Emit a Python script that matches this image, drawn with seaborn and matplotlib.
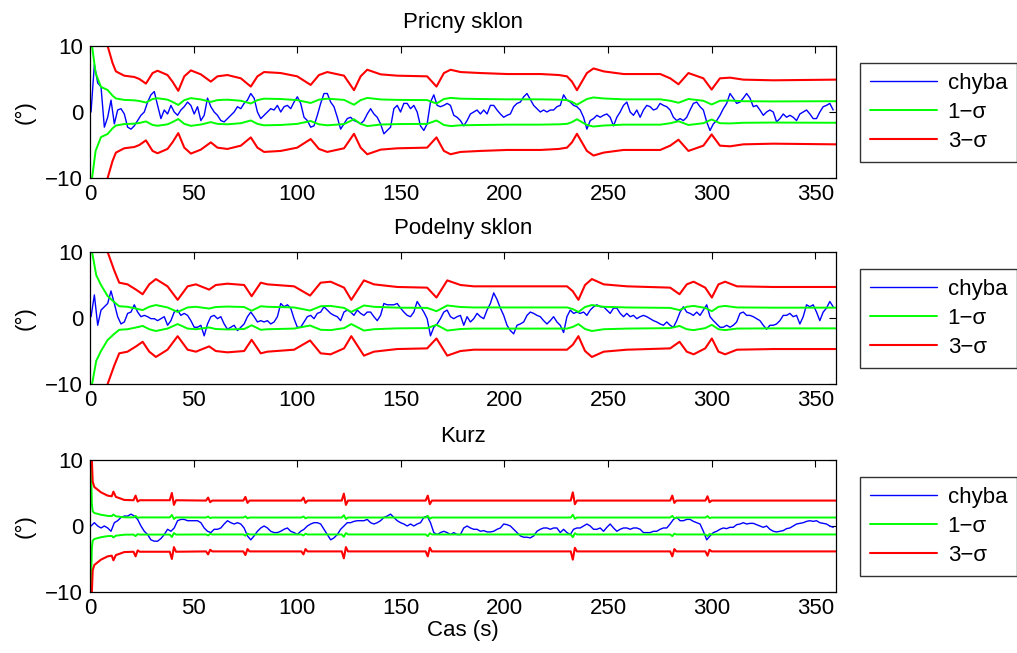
import numpy as np
import matplotlib
matplotlib.use("Agg")
import matplotlib.pyplot as plt
import seaborn as sns

# error samples, uniform time grid starting at T0 with step T_STEP (s)
T0 = 0.5
T_STEP = 1.606

roll_err = [
    0.0, 7.2, 4.4, 3.8, -2.3, -0.8, 1.8, -1.8, 0.3, 0.5,
    -0.3, -2.3, -2.6, -2.1, -1.3, -0.5, 0.0, 1.5, 2.6, 3.1,
    1.0, -1.0, 0.3, -0.3, 1.0, 0.0, -0.5, 0.3, 0.8, 1.5,
    1.0, -0.3, 0.8, -1.3, -0.5, 2.1, 0.8, 0.0, -0.5, -1.3,
    -1.5, -1.0, -0.5, 0.0, 0.8, 0.5, 1.3, 1.8, 2.8, 2.1,
    0.0, -1.0, -0.5, 0.0, 0.5, 0.3, 1.0, 0.0, 0.8, 1.0,
    0.5, 1.5, 2.3, 1.3, -0.8, -1.3, -2.3, -2.1, -0.5, 1.3,
    2.8, 2.8, 1.5, 0.8, -0.8, -2.6, -1.8, -1.0, -0.8, -1.3,
    -1.5, -1.8, -1.3, -0.3, 0.5, -0.3, -0.8, -1.8, -3.3, -2.8,
    -2.3, 0.5, 1.0, 0.0, 1.3, 1.3, 0.5, 1.0, 0.0, -2.1,
    -2.8, -1.8, 1.5, 2.6, 1.0, 0.8, 1.0, 1.3, 1.0, -0.5,
    -0.8, -1.3,
    -2.1, -1.3, -0.3, 0.0, 0.3, -0.3, 0.3, -0.3, 1.0, 1.0,
    0.3, -0.3, -0.8, -0.5, -0.3, 0.8, 1.3, 1.5, 2.3, 2.8,
    1.9, 1.0, 0.5, 0.0, 0.3, 0.0, 0.3, 0.3, 0.8, 1.0,
    2.6, 1.8, 1.5, 1.0, 0.8, 0.3, -0.8, -2.6, -1.3, -1.0,
    -0.5, -0.8, -0.5, -0.3, -0.8, -2.1, -0.8, 0.0, 1.0, 1.5,
    0.0, -0.5, 0.3, -0.8, 0.3, 1.0, 0.8, 0.3, 0.5, 1.3,
    1.0, 0.8, 0.3, -0.8, -1.3, -1.0, -1.3, -0.8, 0.3, 1.3,
    1.5, 0.8, 0.3, -1.5, -2.8, -1.8, -1.3, -0.5, 0.5, 1.3,
    2.8, 2.1, 1.3, 1.5, 2.1, 2.8, 2.1, 0.8, 1.0, 0.3,
    -0.5, 0.0, 0.3, 0.0, -1.5, -1.0, -0.3, -0.8, -0.5, -0.8,
    -1.3, -0.3, 0.0, 0.3, -0.3, -1.0, -1.0, 0.0, 0.8, 1.0,
    1.3, 0.3,
]

pitch_err = [
    0.2, 3.5, -1.1, 1.2, 1.7, 2.2, 4.1, 2.2, 0.2, -0.9,
    -0.6, 0.7, 0.9, 2.0, 0.9, 0.2, 0.4, 0.2, -0.1, -0.1,
    -0.4, -0.1, 0.2, -1.1, -0.4, 0.9, 1.2, 0.4, 0.7, 0.4,
    -0.4, -1.4, -1.4, -1.1, -2.7, -0.9, 0.2, 0.4, -0.1, 0.2,
    -0.9, -1.7, -1.4, -1.1, -1.9, -1.4, -0.9, 0.2, 0.9, 0.2,
    -0.6, -0.4, -0.6, -0.4, -0.9, -0.6, 0.2, 2.2, 1.7, 2.0,
    1.5, -0.1, -1.4, -1.4, -0.6, 0.2, 0.4, -0.1, 0.7, 0.9,
    1.7, 1.2, 0.7, 0.4, 0.2, -0.4, 0.9, 1.2, 0.9, 0.4,
    1.2, 0.7, 0.4, 0.9, 0.9, 0.2, -0.4, 0.4, 2.2, 2.0,
    2.0, 2.0, 2.2, 1.5, 0.9, 0.4, 0.2, 0.9, 2.5, 1.7,
    0.9, -0.1, -2.7, -1.4, -0.9, -0.1, 0.9, 1.2, 0.2, -0.1,
    0.2, 0.4,
    -1.1, 0.2, -0.6, -0.1, 0.7, 0.2, -0.1, 1.2, 2.2, 3.8,
    2.8, 1.5, 0.4, -1.1, -1.9, -2.4, -1.1, -0.9, -0.6, 0.4,
    0.9, 0.7, 0.4, 0.2, -0.4, -0.9, -0.4, 0.2, -0.6, -1.1,
    -2.2, 0.2, 1.2, 0.7, 0.9, 0.7, 0.9, 0.4, 1.2, 1.7,
    2.0, 1.7, 1.7, 1.2, 0.7, 1.5, 1.5, 0.7, 0.2, 0.7,
    0.2, 0.4, -0.1, 0.2, 0.4, 0.2, -0.1, -0.4, -0.6, -0.9,
    -1.1, -0.6, -1.1, -1.4, -0.4, 0.9, 1.7, 0.9, 0.7, 0.4,
    0.9, 0.4, 1.2, 2.0, 0.2, -0.4, -0.9, -1.4, -1.4, -1.1,
    -1.4, -1.1, -0.6, 0.7, 0.9, 0.4, 0.4, 0.2, -0.1, -0.4,
    -1.1, -1.7, -1.1, -1.1, -0.9, -0.4, 0.4, 0.4, 0.7, 0.2,
    0.4, -0.9, 0.2, 2.0, 1.7, 2.0, 0.9, -0.4, 0.9, 1.5,
    2.5, 1.7,
]

yaw_err = [
    0.0, 0.5, 0.0, -0.3, 0.0, -0.3, -0.8, 0.5, 0.8, 1.3,
    1.5, 1.5, 1.8, 1.5, 1.0, 0.0, -0.8, -1.3, -2.1, -2.3,
    -2.3, -1.9, -1.3, -0.5, -0.8, -0.3, 0.8, 1.0, 1.0, 0.8,
    0.8, 0.8, 0.8, 0.5, -0.3, -0.8, -1.0, -0.5, -0.5, -0.3,
    0.3, 0.8, 0.5, 0.3, 0.5, 0.3, -0.3, -1.5, -2.1, -1.5,
    -0.8, -0.3, 0.0, -0.3, -0.8, -1.0, -1.0, -0.8, -0.5, -0.3,
    -0.8, -1.0, -1.3, -0.8, -0.5, 0.0, 0.3, 0.5, 0.5, 0.3,
    -0.5, -1.3, -2.1, -1.8, -1.3, -0.5, 0.0, 0.5, 0.5, 0.7,
    0.8, 0.8, 0.8, 1.0, 0.5, 0.3, 0.5, 0.8, 1.3, 1.5,
    1.8, 1.3, 0.8, 0.5, 0.3, 0.0, 0.3, 0.0, 0.3, 0.5,
    1.3, 1.5, 0.5, -1.0, -1.3, -1.0, -0.8, -1.0, -1.3, -1.0,
    -1.3, -1.3,
    -0.3, 0.0, -0.3, -0.5, -0.5, -0.8, -0.7, -0.9, -0.9, -0.8,
    -0.5, -0.3, 0.3, 0.2, 0.0, -0.5, -1.0, -1.5, -1.7, -1.7,
    -1.8, -1.5, -0.8, -0.5, -0.3, -0.3, -0.5, -0.3, -0.3, -1.0,
    -0.5, -1.0, -1.3, -0.5, -0.3, -0.3, 0.0, 0.3, 0.0, -0.5,
    -0.5, -0.3, -0.8, -0.2, 0.3, -0.3, -0.8, -0.5, -0.3, -0.3,
    -0.5, -0.3, -0.3, -0.5, -1.0, -1.0, -1.0, -0.8, -0.8, -0.5,
    -0.3, -0.3, 0.3, 1.0, 1.3, 0.8, 0.8, 1.0, 1.0, 0.7,
    0.5, 0.3, -0.8, -2.1, -1.5, -1.0, -0.8, -0.5, -0.3, -0.4,
    -0.2, -0.2, 0.2, 0.3, 0.5, 0.3, 0.4, 0.4, 0.2, 0.0,
    -0.2, 0.0, -0.5, -0.8, -0.9, -0.8, -0.7, -0.4, -0.3, 0.0,
    0.3, 0.4, 0.5, 0.7, 0.8, 0.7, 0.8, 0.5, 0.4, 0.3,
    0.0, -0.2,
]

# 3-sigma bound (deg) at its own time knots; 1-sigma is a third of it
roll_sig_t = [0, 1.0, 2.7, 5.3, 8.5, 10.9, 12.5, 16.5, 21.4, 23.8,
              27.0, 30.2, 32.6, 37.4, 39.8, 42.6, 45.5, 48.7, 53.5, 58.3,
              61.5, 66.3, 72.8, 77.6, 80.8, 84.0, 92.0, 100.0, 106.5, 110.5,
              114.5, 122.6, 127.4, 130.6, 133.8, 140.3, 148.3, 162.7, 167.2, 170.8,
              174.0, 178.8, 188.4, 201.3, 217.4, 226.2, 230.2, 232.6, 235.0, 237.4,
              239.8, 243.0, 247.9, 257.5, 275.2, 280.0, 284.0, 288.8, 296.0, 300.0,
              304.0, 308.9, 315.3, 329.8, 360.0]
roll_sig3 = [40, 30, 17.7, 11.4, 10.0, 7.4, 6.15, 5.5, 5.3, 5.0,
             4.3, 5.9, 6.25, 5.6, 4.6, 3.2, 5.4, 6.3, 5.7, 4.6,
             5.4, 5.6, 5.1, 3.85, 5.4, 6.05, 5.9, 5.4, 4.1, 5.6,
             6.05, 5.5, 3.3, 5.4, 6.4, 5.7, 5.5, 5.4, 3.85, 5.9,
             6.4, 6.05, 5.9, 5.75, 5.75, 5.6, 5.4, 4.6, 3.3, 4.6,
             5.9, 6.6, 6.15, 5.75, 5.75, 5.1, 4.2, 5.9, 5.1, 3.4,
             5.1, 5.2, 4.9, 4.8, 4.9]

pitch_sig_t = [0, 1.0, 3.0, 5.3, 8.5, 11.7, 14.1, 18.1, 22.2, 25.4,
               28.6, 31.8, 37.4, 42.3, 47.1, 51.1, 57.5, 60.7, 66.3, 74.4,
               78.0, 82.4, 85.6, 98.5, 106.2, 111.3, 116.1, 122.6, 126.1, 132.2,
               137.0, 148.3, 162.7, 167.2, 172.4, 178.8, 185.2, 230.2, 233.0, 235.7,
               238.9, 242.2, 247.9, 259.1, 280.0, 284.5, 288.0, 291.3, 296.9, 300.1,
               303.3, 306.5, 312.2, 329.8, 360.0]
pitch_sig3 = [40, 30, 19.5, 15.0, 10.0, 7.2, 5.35, 5.1, 4.3, 3.6,
              5.1, 5.9, 4.8, 2.75, 4.8, 5.1, 4.3, 5.0, 5.2, 5.0,
              3.3, 5.35, 5.1, 4.8, 3.4, 5.35, 5.5, 4.6, 2.75, 5.7,
              5.1, 4.7, 4.6, 3.1, 5.7, 5.0, 4.8, 4.8, 4.05, 2.75,
              5.0, 5.9, 5.1, 4.8, 4.6, 3.6, 5.1, 5.5, 4.6, 3.1,
              5.1, 5.5, 4.8, 4.7, 4.7]

yaw_sig_t = [0, 0.4, 0.9, 1.3, 2.1, 5.3, 8.5, 10.5, 11.3, 12.5,
             13.5, 16.5, 21.0, 22.0, 23.0, 24.0, 30.0, 38.5, 39.5, 40.5,
             41.5, 56.0, 57.0, 58.0, 59.0, 74.0, 75.0, 76.0, 77.0, 102.0,
             103.0, 104.0, 105.0, 121.5, 122.5, 123.5, 124.5, 162.0, 163.0, 164.0,
             165.0, 232.0, 233.0, 234.0, 235.0, 280.0, 281.0, 282.0, 283.0, 297.0,
             298.0, 299.0, 300.0, 360.0]
yaw_sig3 = [40, 30, 10.0, 6.7, 5.9, 5.1, 4.6, 4.5, 5.2, 4.4,
            4.3, 3.95, 3.9, 4.6, 3.7, 3.9, 3.9, 3.9, 5.0, 3.2,
            3.9, 3.85, 4.3, 3.6, 3.85, 3.85, 4.4, 3.5, 3.85, 3.85,
            4.3, 3.5, 3.85, 3.85, 4.9, 3.2, 3.85, 3.85, 4.6, 3.3,
            3.85, 3.85, 5.1, 3.3, 3.85, 3.85, 4.6, 3.5, 3.85, 3.85,
            4.5, 3.6, 3.85, 3.85]

titles = ["Pricny sklon", "Podelny sklon", "Kurz"]
legend_labels = ["chyba", "1\u2212\u03c3", "3\u2212\u03c3"]
x_ticks = [0, 50, 100, 150, 200, 250, 300, 350]
y_ticks = [-10, 0, 10]

FS = 16

sns.set_style("white", {"xtick.direction": "in", "ytick.direction": "in",
                        "axes.edgecolor": "black", "text.color": "black",
                        "axes.labelcolor": "black", "xtick.color": "black",
                        "ytick.color": "black"})
plt.rcParams['font.family'] = ['Liberation Sans', 'DejaVu Sans']
plt.rcParams['font.size'] = FS
plt.rcParams['axes.unicode_minus'] = True

fig = plt.figure(figsize=(10.17, 6.53), dpi=100)
bottoms = [0.7274, 0.4119, 0.0934]
series = [(roll_err, roll_sig_t, roll_sig3),
          (pitch_err, pitch_sig_t, pitch_sig3),
          (yaw_err, yaw_sig_t, yaw_sig3)]

for i, (err, st, s3) in enumerate(series):
    ax = fig.add_axes([0.0885, bottoms[i], 0.7335, 0.2022])
    t = T0 + T_STEP * np.arange(len(err))
    st = np.array(st)
    s3 = np.array(s3)
    sns.lineplot(x=t, y=err, ax=ax, color=(0, 0, 1), linewidth=1.0, label=legend_labels[0])
    sns.lineplot(x=st, y=s3 / 3, ax=ax, color=(0, 1, 0), linewidth=1.4, label=legend_labels[1])
    sns.lineplot(x=st, y=-s3 / 3, ax=ax, color=(0, 1, 0), linewidth=1.4)
    sns.lineplot(x=st, y=s3, ax=ax, color=(1, 0, 0), linewidth=1.5, label=legend_labels[2])
    sns.lineplot(x=st, y=-s3, ax=ax, color=(1, 0, 0), linewidth=1.5)

    ax.set_xlim(0, 360)
    ax.set_ylim(-10, 10)
    ax.set_xticks(x_ticks)
    ax.set_yticks(y_ticks)
    ax.tick_params(axis="both", which="both", direction="in", top=True, right=True,
                   length=5, width=0.8, labelsize=FS, color="black", labelcolor="black")
    ax.tick_params(axis="x", pad=4)
    ax.tick_params(axis="y", pad=5)
    for sp in ax.spines.values():
        sp.set_visible(True)
        sp.set_color("black")
        sp.set_linewidth(0.9)
    ax.set_title(titles[i], fontsize=FS, pad=13, color="black")
    ax.set_ylabel("(\u00b0)", fontsize=FS, labelpad=7, color="black")
    ax.set_xlabel("")

    handles, labels = ax.get_legend_handles_labels()
    leg = ax.legend(handles[:3], labels[:3], loc="upper left",
                    bbox_to_anchor=(1.032, 0.871), borderaxespad=0,
                    frameon=True, fancybox=False, edgecolor="black",
                    handlelength=3.0, handletextpad=0.5, borderpad=0.45,
                    labelspacing=0.36, fontsize=FS)
    leg.get_frame().set_linewidth(1.0)
    for txt in leg.get_texts():
        txt.set_color("black")

ax.set_xlabel("Cas (s)", fontsize=FS, labelpad=1, color="black")

fig.savefig("out.png", dpi=100)
